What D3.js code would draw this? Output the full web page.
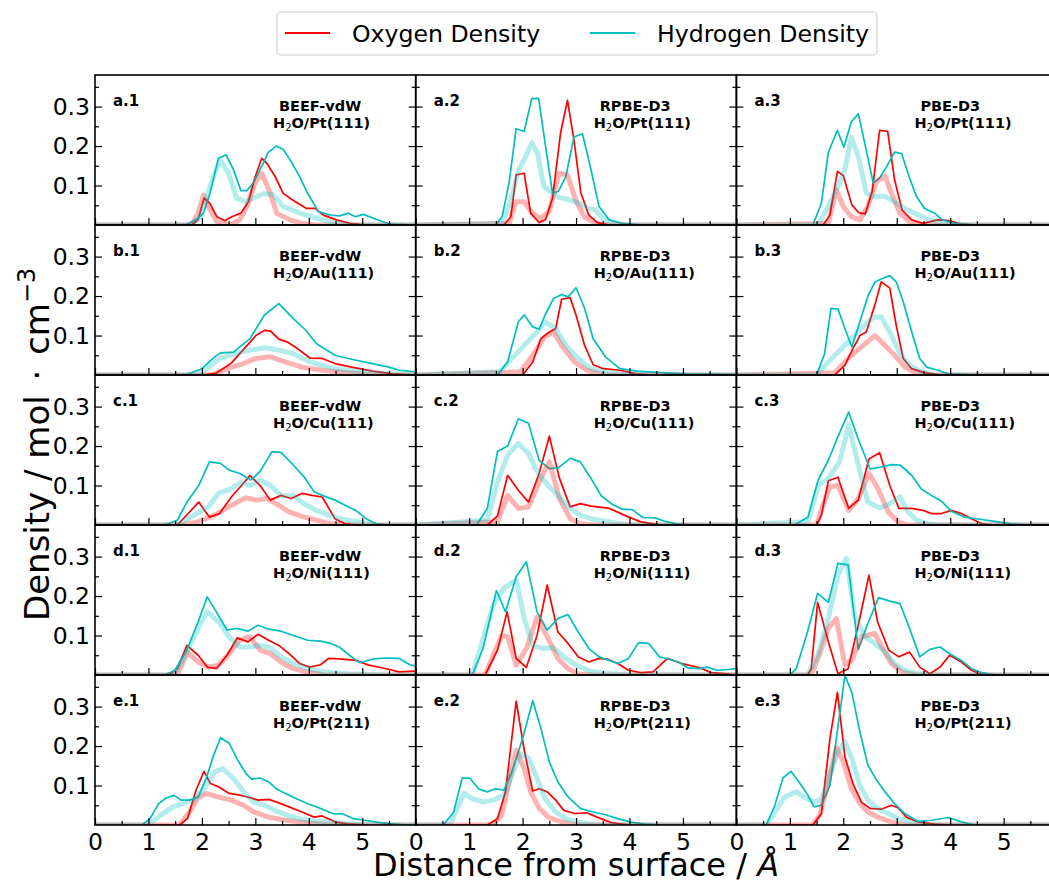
<!DOCTYPE html>
<html>
<head>
<meta charset="utf-8">
<script src="https://cdn.jsdelivr.net/npm/d3@7"></script>
<style>
body { margin: 0; background: #fff; }
text { font-family: "DejaVu Sans", sans-serif; }
</style>
</head>
<body>
<div id="chart"></div>
<script>
// panel labels / titles
const rowLetters = ["a", "b", "c", "d", "e"];
const methods = ["BEEF-vdW", "RPBE-D3", "PBE-D3"];
const surfaces = ["Pt(111)", "Au(111)", "Cu(111)", "Ni(111)", "Pt(211)"];
const xMajor = [0, 1, 2, 3, 4, 5];
const xMinor = [0.5, 1.5, 2.5, 3.5, 4.5, 5.5];
const yMajor = [0.1, 0.2, 0.3];
const yMinor = [0.05, 0.15, 0.25, 0.35];

// [distance, density]  O = oxygen, H = hydrogen, f = faded curve
const a1O = [[0,0],[1.81,0],[1.93,.013],[2.04,.068],[2.15,.055],[2.28,.021],[2.43,.011],[2.56,.021],[2.73,.03],[2.87,.059],[2.99,.119],[3.12,.169],[3.21,.157],[3.37,.123],[3.52,.08],[3.71,.062],[3.96,.042],[4.12,.042],[4.27,.025],[4.52,.013],[4.77,.004],[5.08,0],[6,0]];
const a1H = [[0,0],[1.68,0],[1.9,.013],[2.03,.03],[2.15,.08],[2.31,.169],[2.45,.178],[2.59,.14],[2.73,.087],[2.84,.087],[2.96,.106],[3.15,.157],[3.24,.184],[3.39,.2],[3.52,.192],[3.65,.165],[3.81,.127],[3.96,.085],[4.18,.034],[4.4,.025],[4.58,.023],[4.74,.03],[4.87,.021],[5.02,.027],[5.27,.014],[5.52,.002],[6,0]];
const a1Of = [[0,0],[1.81,0],[1.93,.03],[2.03,.076],[2.12,.047],[2.28,.008],[2.53,0],[2.71,.013],[2.87,.055],[2.99,.106],[3.12,.131],[3.28,.08],[3.4,.03],[3.65,.013],[3.9,.003],[4.15,0],[6,0]];
const a1Hf = [[0,0],[1.78,0],[1.97,.021],[2.15,.097],[2.34,.165],[2.5,.131],[2.65,.068],[2.81,.059],[2.96,.068],[3.15,.08],[3.34,.076],[3.52,.047],[3.84,.03],[4.15,.017],[4.46,.006],[4.8,0],[6,0]];

const a2O = [[0,0],[1.65,0],[1.78,.021],[1.88,.127],[2.03,.131],[2.15,.03],[2.31,.006],[2.43,.014],[2.56,.068],[2.71,.233],[2.84,.316],[2.96,.216],[3.09,.081],[3.24,.025],[3.4,.006],[3.62,0],[6,0]];
const a2H = [[0,0],[1.5,0],[1.62,.023],[1.75,.11],[1.88,.244],[2.03,.237],[2.17,.32],[2.3,.321],[2.42,.208],[2.56,.081],[2.67,.085],[2.81,.123],[2.96,.223],[3.12,.231],[3.28,.14],[3.43,.047],[3.62,.013],[3.87,.004],[4.24,0],[6,0]];
const a2Of = [[0,0],[1.75,.004],[1.87,.059],[2.03,.059],[2.18,.03],[2.34,.017],[2.5,.034],[2.68,.131],[2.84,.127],[2.99,.064],[3.15,.021],[3.37,.004],[3.6,0],[6,0]];
const a2Hf = [[0,0],[1.62,.004],[1.78,.064],[1.93,.14],[2.06,.174],[2.17,.208],[2.28,.182],[2.4,.097],[2.56,.081],[2.68,.07],[2.87,.064],[3.06,.055],[3.24,.042],[3.37,.038],[3.49,.017],[3.68,.004],[3.9,0],[6,0]];

const a3O = [[0,0],[1.62,0],[1.75,.025],[1.89,.136],[2.0,.125],[2.16,.051],[2.29,.031],[2.41,.028],[2.54,.085],[2.68,.24],[2.83,.237],[2.96,.114],[3.1,.038],[3.28,.013],[3.49,.004],[3.77,.013],[3.99,.011],[4.21,.002],[4.45,0],[6,0]];
const a3H = [[0,0],[1.43,0],[1.59,.055],[1.72,.184],[1.89,.24],[2.01,.197],[2.15,.261],[2.28,.282],[2.4,.208],[2.56,.106],[2.68,.119],[2.81,.148],[2.96,.185],[3.09,.181],[3.24,.119],[3.37,.072],[3.52,.042],[3.71,.03],[3.84,.014],[4.02,.006],[4.21,.002],[4.5,0],[6,0]];
const a3Of = [[0,0],[1.72,.004],[1.87,.089],[2.0,.047],[2.15,.021],[2.31,.013],[2.46,.047],[2.62,.11],[2.78,.123],[2.9,.081],[3.06,.03],[3.24,.008],[3.46,0],[6,0]];
const a3Hf = [[0,0],[1.53,0],[1.72,.047],[1.9,.097],[2.03,.14],[2.15,.223],[2.28,.174],[2.43,.081],[2.59,.072],[2.78,.072],[2.96,.059],[3.15,.042],[3.34,.03],[3.59,.014],[3.84,.004],[4.1,0],[6,0]];

const b1O = [[0,0],[2.0,0],[2.27,.005],[2.55,.03],[2.78,.065],[3.01,.1],[3.17,.113],[3.28,.112],[3.44,.091],[3.59,.084],[3.79,.067],[4.02,.043],[4.25,.042],[4.49,.029],[4.8,.02],[5.19,.01],[5.57,.003],[6,0]];
const b1H = [[0,0],[1.69,0],[2.0,.016],[2.24,.046],[2.35,.056],[2.59,.058],[2.9,.092],[3.17,.152],[3.44,.181],[3.71,.143],[3.94,.114],[4.14,.08],[4.49,.05],[4.8,.04],[5.19,.029],[5.5,.02],[5.69,.012],[6,.008]];
const b1Of = [[0,0],[2.2,0],[2.47,.016],[2.78,.029],[3.01,.042],[3.28,.046],[3.56,.033],[3.87,.02],[4.25,.012],[4.72,.006],[5.2,0],[6,0]];
const b1Hf = [[0,0],[1.9,0],[2.04,.01],[2.31,.04],[2.62,.054],[2.9,.063],[3.17,.069],[3.44,.063],[3.71,.054],[4.02,.033],[4.49,.016],[4.95,.009],[5.5,.003],[6,0]];

const b2O = [[0,0],[2.0,0],[2.19,.033],[2.34,.092],[2.5,.109],[2.62,.118],[2.73,.192],[2.89,.196],[3.0,.152],[3.16,.075],[3.32,.026],[3.51,.016],[3.82,.012],[4.13,.003],[4.45,0],[6,0]];
const b2H = [[0,0],[1.53,0],[1.72,.033],[1.92,.135],[2.03,.152],[2.19,.122],[2.31,.116],[2.42,.152],[2.58,.194],[2.73,.204],[2.85,.198],[3.0,.221],[3.16,.169],[3.32,.092],[3.55,.046],[3.82,.016],[4.13,.01],[4.6,.006],[5.06,.003],[5.53,.002],[6,.001]];
const b2Of = [[0,0],[1.96,.008],[2.19,.05],[2.42,.097],[2.58,.109],[2.73,.075],[2.97,.033],[3.2,.012],[3.5,0],[6,0]];
const b2Hf = [[0,0],[1.57,.008],[1.8,.042],[2.03,.075],[2.27,.109],[2.42,.135],[2.62,.118],[2.81,.075],[3.04,.042],[3.28,.016],[3.59,.006],[3.98,.002],[4.3,0],[6,0]];

const b3O = [[0,0],[1.84,0],[2.03,.025],[2.18,.067],[2.31,.1],[2.43,.109],[2.59,.177],[2.71,.236],[2.87,.22],[2.99,.126],[3.12,.042],[3.28,.016],[3.52,.006],[3.83,0],[6,0]];
const b3H = [[0,0],[1.5,0],[1.65,.054],[1.77,.169],[1.9,.167],[2.03,.118],[2.16,.071],[2.31,.135],[2.46,.2],[2.59,.235],[2.71,.243],[2.87,.252],[2.99,.236],[3.12,.186],[3.28,.109],[3.43,.042],[3.56,.02],[3.77,.012],[3.96,.003],[4.34,.001],[6,0]];
const b3Of = [[0,0],[1.84,.006],[2.09,.042],[2.34,.071],[2.59,.1],[2.78,.075],[2.96,.05],[3.15,.02],[3.34,.006],[3.6,0],[6,0]];
const b3Hf = [[0,0],[1.5,0],[1.72,.033],[1.97,.067],[2.21,.1],[2.46,.135],[2.59,.147],[2.71,.147],[2.87,.109],[3.06,.054],[3.24,.025],[3.46,.008],[3.7,0],[6,0]];

const c1O = [[0,0],[1.54,0],[1.77,.033],[1.94,.058],[2.14,.02],[2.33,.029],[2.55,.071],[2.74,.1],[2.9,.125],[3.09,.1],[3.28,.063],[3.48,.075],[3.67,.067],[3.87,.08],[4.06,.075],[4.25,.071],[4.49,.016],[4.68,.003],[4.95,0],[6,0]];
const c1H = [[0,0],[1.3,0],[1.54,.012],[1.72,.058],[1.94,.1],[2.14,.16],[2.35,.156],[2.51,.139],[2.7,.131],[2.92,.114],[3.09,.136],[3.31,.186],[3.48,.184],[3.71,.152],[3.91,.122],[4.1,.084],[4.25,.075],[4.49,.063],[4.68,.05],[4.88,.037],[5.07,.016],[5.26,.003],[5.5,0],[6,0]];
const c1Of = [[0,0],[1.61,0],[1.93,.008],[2.24,.025],[2.55,.05],[2.82,.069],[3.01,.063],[3.21,.067],[3.44,.05],[3.63,.033],[3.87,.022],[4.14,.012],[4.41,.003],[4.7,0],[6,0]];
const c1Hf = [[0,0],[1.54,0],[1.85,.025],[2.12,.046],[2.31,.08],[2.55,.092],[2.74,.109],[2.9,.1],[3.09,.114],[3.28,.1],[3.48,.075],[3.71,.074],[3.91,.054],[4.14,.037],[4.37,.025],[4.64,.014],[4.88,.009],[5.26,0],[6,0]];

const c2O = [[0,0],[1.34,0],[1.53,.023],[1.72,.126],[1.92,.088],[2.11,.058],[2.31,.131],[2.5,.225],[2.69,.118],[2.89,.046],[3.08,.054],[3.28,.048],[3.63,.042],[3.9,.025],[4.21,.008],[4.6,0],[6,0]];
const c2H = [[0,0],[1.14,0],[1.34,.042],[1.53,.186],[1.72,.2],[1.92,.269],[2.11,.258],[2.31,.164],[2.5,.143],[2.66,.144],[2.89,.169],[3.08,.16],[3.28,.118],[3.47,.074],[3.66,.054],[3.86,.04],[4.05,.039],[4.25,.019],[4.48,.018],[4.67,.009],[4.91,.002],[5.2,0],[6,0]];
const c2Of = [[0,0],[1.53,.008],[1.72,.075],[1.92,.042],[2.11,.046],[2.31,.109],[2.5,.16],[2.69,.067],[2.89,.016],[3.08,.003],[3.35,0],[6,0]];
const c2Hf = [[0,0],[1.34,.012],[1.53,.109],[1.72,.177],[1.92,.207],[2.11,.181],[2.31,.126],[2.5,.097],[2.69,.071],[2.89,.042],[3.08,.025],[3.28,.016],[3.59,.008],[3.98,0],[6,0]];

const c3O = [[0,0],[1.5,0],[1.59,.025],[1.72,.112],[1.9,.121],[2.1,.042],[2.28,.063],[2.48,.167],[2.68,.183],[2.87,.1],[3.04,.042],[3.28,.042],[3.49,.037],[3.65,.029],[3.84,.029],[4.02,.037],[4.21,.029],[4.4,.016],[4.59,.003],[4.84,0],[6,0]];
const c3H = [[0,0],[1.09,0],[1.34,.02],[1.53,.114],[1.72,.164],[1.9,.224],[2.1,.286],[2.28,.218],[2.5,.142],[2.71,.147],[2.9,.153],[3.06,.152],[3.28,.126],[3.46,.091],[3.65,.075],[3.84,.06],[4.02,.035],[4.27,.02],[4.59,.014],[4.83,.009],[5.15,.003],[5.46,0],[6,0]];
const c3Of = [[0,0],[1.5,0],[1.62,.05],[1.75,.097],[1.9,.1],[2.1,.037],[2.28,.067],[2.48,.131],[2.65,.092],[2.84,.033],[3.03,.008],[3.2,0],[6,0]];
const c3Hf = [[0,0],[1.34,.008],[1.53,.1],[1.72,.118],[1.93,.16],[2.1,.253],[2.28,.152],[2.46,.058],[2.68,.043],[2.87,.054],[3.06,.071],[3.21,.033],[3.37,.012],[3.59,.003],[3.85,0],[6,0]];

const d1O = [[0,0],[1.38,0],[1.54,.016],[1.72,.075],[1.93,.05],[2.1,.02],[2.27,.016],[2.47,.05],[2.66,.094],[2.86,.084],[3.05,.103],[3.25,.088],[3.44,.075],[3.63,.054],[3.83,.029],[4.02,.02],[4.22,.026],[4.37,.042],[4.64,.04],[4.88,.037],[5.12,.025],[5.34,.019],[5.69,.008],[6,.01]];
const d1H = [[0,0],[1.3,0],[1.5,.012],[1.73,.067],[1.93,.135],[2.1,.198],[2.27,.16],[2.47,.114],[2.66,.118],[2.86,.111],[3.05,.126],[3.25,.116],[3.48,.111],[3.71,.1],[3.98,.088],[4.22,.086],[4.41,.08],[4.57,.071],[4.76,.05],[4.95,.031],[5.19,.04],[5.42,.043],[5.69,.042],[5.89,.026],[6,.023]];
const d1Of = [[0,0],[1.54,0],[1.73,.058],[1.93,.033],[2.12,.02],[2.31,.025],[2.51,.054],[2.7,.088],[2.9,.097],[3.09,.063],[3.28,.054],[3.48,.033],[3.71,.016],[3.94,.008],[4.3,0],[6,0]];
const d1Hf = [[0,0],[1.46,0],[1.69,.05],[1.93,.118],[2.1,.16],[2.31,.135],[2.51,.097],[2.7,.071],[2.9,.071],[3.09,.075],[3.28,.069],[3.48,.046],[3.71,.029],[3.94,.018],[4.25,.009],[4.72,.003],[5.4,0],[6,0]];

const d2O = [[0,0],[1.3,0],[1.53,.063],[1.71,.16],[1.88,.042],[2.07,.019],[2.27,.1],[2.46,.228],[2.66,.109],[2.85,.08],[3.04,.046],[3.24,.033],[3.43,.042],[3.59,.04],[3.78,.029],[3.98,.012],[4.21,.006],[4.44,.008],[4.71,.042],[4.98,.029],[5.3,.019],[5.53,.006],[5.84,.003],[6,0]];
const d2H = [[0,0],[1.06,0],[1.26,.067],[1.51,.214],[1.68,.16],[1.88,.249],[2.07,.287],[2.27,.16],[2.46,.114],[2.66,.143],[2.85,.153],[3.04,.109],[3.24,.067],[3.43,.046],[3.78,.029],[3.98,.042],[4.17,.082],[4.36,.08],[4.56,.046],[4.75,.04],[4.91,.033],[5.1,.018],[5.3,.016],[5.45,.02],[5.64,.012],[5.84,.014],[6,.016]];
const d2Of = [[0,0],[1.3,0],[1.45,.05],[1.61,.1],[1.72,.097],[1.88,.025],[2.07,.067],[2.27,.147],[2.46,.097],[2.66,.042],[2.85,.016],[3.04,.003],[3.3,0],[6,0]];
const d2Hf = [[0,0],[1.06,0],[1.26,.092],[1.45,.177],[1.65,.22],[1.88,.241],[2.03,.143],[2.19,.075],[2.38,.067],[2.58,.069],[2.77,.046],[3.0,.025],[3.28,.009],[3.66,.003],[4,0],[6,0]];

const d3O = [[0,0],[1.33,0],[1.4,.016],[1.52,.184],[1.72,.084],[1.9,.003],[2.09,.016],[2.28,.126],[2.48,.253],[2.64,.135],[2.85,.063],[3.04,.046],[3.24,.058],[3.43,.02],[3.62,.003],[3.81,.02],[3.99,.05],[4.21,.033],[4.4,.012],[4.6,0],[6,0]];
const d3H = [[0,0],[1.0,0],[1.12,.016],[1.33,.109],[1.52,.207],[1.72,.184],[1.9,.283],[2.09,.279],[2.28,.065],[2.46,.131],[2.66,.196],[2.87,.187],[3.06,.181],[3.24,.118],[3.43,.046],[3.62,.065],[3.81,.071],[3.99,.054],[4.21,.037],[4.4,.016],[4.59,.006],[4.85,0],[6,0]];
const d3Of = [[0,0],[1.4,0],[1.56,.054],[1.72,.118],[1.87,.143],[2.03,.025],[2.16,.037],[2.34,.097],[2.59,.105],[2.74,.067],[2.9,.029],[3.09,.008],[3.35,0],[6,0]];
const d3Hf = [[0,0],[1.33,0],[1.52,.05],[1.72,.143],[1.9,.253],[2.06,.296],[2.21,.152],[2.4,.097],[2.59,.08],[2.78,.058],[2.96,.029],[3.15,.012],[3.4,.003],[3.7,0],[6,0]];

const e1O = [[0,0],[1.58,0],[1.73,.016],[1.89,.088],[2.04,.136],[2.16,.105],[2.31,.097],[2.51,.08],[2.66,.077],[2.86,.071],[3.05,.063],[3.25,.065],[3.44,.056],[3.63,.046],[3.87,.033],[4.1,.02],[4.25,.023],[4.49,.008],[4.72,.003],[5.1,0],[6,0]];
const e1H = [[0,0],[0.88,0],[1.03,.016],[1.19,.054],[1.34,.069],[1.48,.075],[1.61,.063],[1.77,.063],[1.93,.071],[2.08,.118],[2.22,.177],[2.35,.221],[2.51,.207],[2.66,.167],[2.82,.131],[2.93,.116],[3.09,.119],[3.25,.109],[3.4,.091],[3.59,.078],[3.79,.065],[3.98,.054],[4.22,.042],[4.45,.029],[4.64,.028],[4.84,.016],[5.03,.012],[5.34,.006],[5.73,.001],[6,0]];
const e1Of = [[0,0],[1.58,0],[1.77,.033],[1.93,.069],[2.08,.08],[2.31,.071],[2.55,.063],[2.78,.05],[2.97,.033],[3.25,.02],[3.56,.012],[3.94,.006],[4.4,0],[6,0]];
const e1Hf = [[0,0],[0.99,0],[1.23,.025],[1.46,.046],[1.65,.054],[1.85,.063],[2.04,.092],[2.24,.135],[2.39,.143],[2.59,.118],[2.78,.084],[2.97,.058],[3.17,.05],[3.4,.035],[3.63,.023],[3.87,.014],[4.25,.008],[4.72,.003],[5.2,0],[6,0]];

const e2O = [[0,0],[1.34,0],[1.53,.016],[1.68,.084],[1.88,.314],[2.03,.19],[2.19,.086],[2.31,.092],[2.46,.084],[2.62,.063],[2.77,.037],[2.97,.029],[3.2,.031],[3.39,.02],[3.66,.006],[4.0,0],[6,0]];
const e2H = [[0,0],[0.52,0],[0.71,.033],[0.87,.119],[1.01,.119],[1.18,.091],[1.34,.084],[1.49,.092],[1.65,.088],[1.8,.135],[2.0,.219],[2.19,.315],[2.34,.246],[2.5,.16],[2.66,.109],[2.85,.071],[3.08,.042],[3.32,.033],[3.55,.026],[3.78,.016],[4.01,.008],[4.29,.002],[4.6,0],[6,0]];
const e2Of = [[0,0],[1.45,0],[1.61,.025],[1.72,.092],[1.88,.19],[2.03,.143],[2.15,.084],[2.31,.042],[2.5,.018],[2.73,.008],[3.0,0],[6,0]];
const e2Hf = [[0,0],[0.64,0],[0.75,.033],[0.91,.08],[1.06,.067],[1.26,.058],[1.45,.063],[1.65,.075],[1.8,.126],[1.96,.181],[2.11,.17],[2.27,.118],[2.42,.067],[2.62,.033],[2.81,.016],[3.04,.008],[3.35,0],[6,0]];

const e3O = [[0,0],[1.43,0],[1.59,.029],[1.75,.219],[1.89,.336],[2.03,.173],[2.18,.105],[2.34,.058],[2.5,.042],[2.71,.04],[2.9,.05],[3.03,.043],[3.18,.02],[3.4,.008],[3.71,.002],[4.0,0],[6,0]];
const e3H = [[0,0],[0.56,0],[0.72,.05],[0.87,.119],[1.02,.136],[1.19,.105],[1.34,.075],[1.45,.046],[1.59,.05],[1.75,.1],[1.87,.219],[2.03,.379],[2.16,.336],[2.31,.236],[2.46,.152],[2.62,.114],[2.78,.084],[2.96,.054],[3.15,.029],[3.4,.009],[3.65,.012],[3.96,.019],[4.21,.008],[4.46,0],[6,0]];
const e3Of = [[0,0],[1.43,0],[1.56,.025],[1.72,.109],[1.87,.196],[2.0,.16],[2.15,.092],[2.31,.054],[2.46,.033],[2.68,.018],[2.9,.008],[3.15,0],[6,0]];
const e3Hf = [[0,0],[0.56,0],[0.72,.033],[0.9,.071],[1.12,.084],[1.31,.067],[1.47,.058],[1.59,.067],[1.75,.126],[1.9,.186],[2.03,.211],[2.16,.169],[2.31,.1],[2.46,.063],[2.65,.042],[2.84,.029],[3.03,.016],[3.28,.006],[3.6,0],[6,0]];

const oxygen = [[a1O,a2O,a3O],[b1O,b2O,b3O],[c1O,c2O,c3O],[d1O,d2O,d3O],[e1O,e2O,e3O]];
const hydrogen = [[a1H,a2H,a3H],[b1H,b2H,b3H],[c1H,c2H,c3H],[d1H,d2H,d3H],[e1H,e2H,e3H]];
const oxygenFaded = [[a1Of,a2Of,a3Of],[b1Of,b2Of,b3Of],[c1Of,c2Of,c3Of],[d1Of,d2Of,d3Of],[e1Of,e2Of,e3Of]];
const hydrogenFaded = [[a1Hf,a2Hf,a3Hf],[b1Hf,b2Hf,b3Hf],[c1Hf,c2Hf,c3Hf],[d1Hf,d2Hf,d3Hf],[e1Hf,e2Hf,e3Hf]];

const width = 1049, height = 885;
const marginLeft = 95, marginTop = 75;
const pw = 320.7, ph = 150;
const red = "#ff0000", cyan = "#00bfbf";
const tickFont = 23.5;

let x = d3.scaleLinear().domain([0, 6]).range([0, pw]);
let y = d3.scaleLinear().domain([0, 0.38]).range([ph, 0]);
let line = d3.line().x(d => x(d[0])).y(d => y(d[1]));

let svg = d3.select("#chart").append("svg")
	.attr("width", width)
	.attr("height", height);

function styleAxis(g) {
	g.select(".domain").remove();
	g.selectAll(".tick line").attr("stroke", "#000").attr("stroke-width", 1.2);
	g.selectAll(".tick text")
		.filter(function() { return this.textContent === ""; })
		.remove();
	g.selectAll(".tick text").attr("font-size", tickFont).attr("font-family", "DejaVu Sans").attr("fill", "#000");
}

for (let r = 0; r < 5; r++) {
	for (let c = 0; c < 3; c++) {
		let g = svg.append("g")
			.attr("transform", "translate(" + (marginLeft + c*pw) + "," + (marginTop + r*ph) + ")");
		let clipId = "clip" + r + c;
		g.append("clipPath").attr("id", clipId)
			.append("rect").attr("width", pw).attr("height", ph);
		let plot = g.append("g").attr("clip-path", "url(#" + clipId + ")");

		plot.append("path").datum(oxygen[r][c])
			.attr("d", line).attr("fill", "none")
			.attr("stroke", red).attr("stroke-width", 1.7).attr("stroke-linejoin", "round");
		plot.append("path").datum(hydrogen[r][c])
			.attr("d", line).attr("fill", "none")
			.attr("stroke", cyan).attr("stroke-width", 1.7).attr("stroke-linejoin", "round");
		plot.append("path").datum(oxygenFaded[r][c])
			.attr("d", line).attr("fill", "none")
			.attr("stroke", red).attr("stroke-opacity", 0.3)
			.attr("stroke-width", 5).attr("stroke-linejoin", "round");
		plot.append("path").datum(hydrogenFaded[r][c])
			.attr("d", line).attr("fill", "none")
			.attr("stroke", cyan).attr("stroke-opacity", 0.3)
			.attr("stroke-width", 5).attr("stroke-linejoin", "round");

		// ticks, pointing inwards
		g.append("g")
			.call(d3.axisLeft(y).tickValues(yMajor).tickSize(-7).tickPadding(5)
				.tickFormat(c == 0 ? d3.format(".1f") : ""))
			.call(styleAxis);
		g.append("g")
			.call(d3.axisLeft(y).tickValues(yMinor).tickSize(-4).tickFormat(""))
			.call(styleAxis);
		g.append("g").attr("transform", "translate(" + pw + ",0)")
			.call(d3.axisRight(y).tickValues(yMajor).tickSize(-7).tickFormat(""))
			.call(styleAxis);
		g.append("g").attr("transform", "translate(" + pw + ",0)")
			.call(d3.axisRight(y).tickValues(yMinor).tickSize(-4).tickFormat(""))
			.call(styleAxis);
		g.append("g").attr("transform", "translate(0," + ph + ")")
			.call(d3.axisBottom(x).tickValues(xMajor).tickSize(-7).tickPadding(8)
				.tickFormat(r == 4 ? d3.format("d") : ""))
			.call(styleAxis);
		g.append("g").attr("transform", "translate(0," + ph + ")")
			.call(d3.axisBottom(x).tickValues(xMinor).tickSize(-4).tickFormat(""))
			.call(styleAxis);

		g.append("rect")
			.attr("width", pw).attr("height", ph)
			.attr("fill", "none").attr("stroke", "#000").attr("stroke-width", 1.6);

		g.append("text")
			.attr("x", 18).attr("y", 31)
			.attr("font-size", 15).attr("font-weight", "bold")
			.text(rowLetters[r] + "." + (c + 1));
		g.append("text")
			.attr("x", 184).attr("y", 36)
			.attr("font-size", 14.5).attr("font-weight", "bold")
			.text(methods[c]);
		let t = g.append("text")
			.attr("x", 178).attr("y", 53)
			.attr("font-size", 14.5).attr("font-weight", "bold");
		t.append("tspan").text("H");
		t.append("tspan").attr("font-size", 10).attr("font-weight", "normal").attr("dy", 3).text("2");
		t.append("tspan").attr("dy", -3).text("O/" + surfaces[r]);
	}
}

// axis titles
svg.append("text")
	.attr("x", marginLeft + 1.5*pw).attr("y", 876)
	.attr("text-anchor", "middle").attr("font-size", 32)
	.text("Distance from surface / ")
	.append("tspan").attr("font-style", "italic").text("Å");

let yl = svg.append("text")
	.attr("transform", "translate(49,621) rotate(-90)")
	.attr("text-anchor", "start").attr("font-size", 34);
yl.append("tspan").text("Density / mol ");
yl.append("tspan").attr("dx", 4).text("·");
yl.append("tspan").attr("dx", 4).text(" cm");
yl.append("tspan").attr("font-size", 24).attr("dy", -14).text("−3");

// legend
let legend = svg.append("g");
legend.append("rect")
	.attr("x", 277).attr("y", 12).attr("width", 600).attr("height", 43).attr("rx", 4)
	.attr("fill", "#fff").attr("stroke", "#d0d0d0").attr("stroke-width", 1.2);
const legendItems = [["Oxygen Density", red, 285], ["Hydrogen Density", cyan, 590]];
legendItems.forEach(d => {
	legend.append("line")
		.attr("x1", d[2]).attr("x2", d[2] + 45).attr("y1", 33).attr("y2", 33)
		.attr("stroke", d[1]).attr("stroke-width", 2);
	legend.append("text")
		.attr("x", d[2] + 67).attr("y", 41.5)
		.attr("font-size", 23.6)
		.text(d[0]);
});
</script>
</body>
</html>
